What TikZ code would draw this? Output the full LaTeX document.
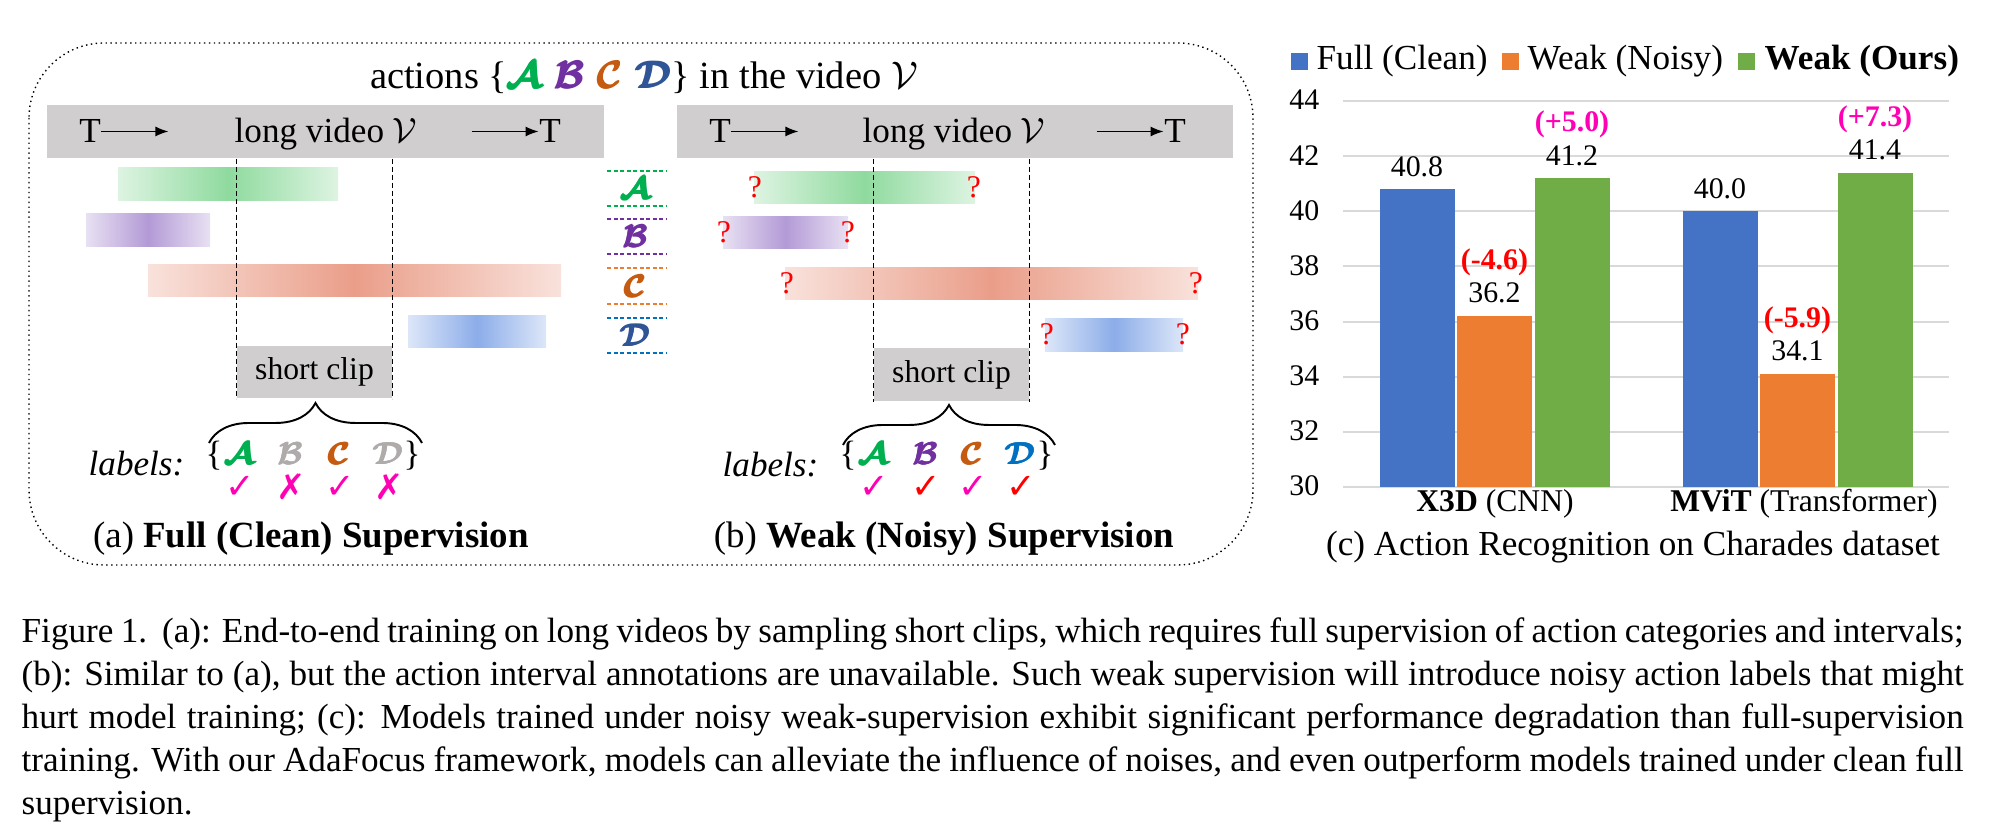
\documentclass[tikz,border=0pt]{standalone}
\usepackage{amsmath,amssymb}
\usepackage{fontspec}
\setmainfont{Liberation Serif}
\newfontfamily\dejavu{DejaVu Sans}
\usetikzlibrary{positioning,arrows.meta,decorations.pathreplacing}
\definecolor{ActA}{HTML}{00B050}
\definecolor{ActB}{HTML}{7030A0}
\definecolor{ActC}{HTML}{C55A11}
\definecolor{ActD}{HTML}{2F5597}
\definecolor{ActDl}{HTML}{0070C0}
\definecolor{DashC}{HTML}{ED7D31}
\definecolor{LabGray}{HTML}{AFABAB}
\definecolor{BandGray}{HTML}{D0CECE}
\definecolor{BarA}{HTML}{8FDA9E}
\definecolor{BarB}{HTML}{B39AD6}
\definecolor{BarC}{HTML}{EA9E89}
\definecolor{BarD}{HTML}{8CADE9}
\definecolor{ChBlue}{HTML}{4472C4}
\definecolor{ChOrange}{HTML}{ED7D31}
\definecolor{ChGreen}{HTML}{70AD47}
\definecolor{GridGray}{HTML}{D9D9D9}
\definecolor{NoteRed}{HTML}{FF0000}
\definecolor{NotePink}{HTML}{FF00B4}
\newcommand{\bcal}[2]{\textcolor{#1}{$\pmb{\boldsymbol{\mathcal{#2}}}$}}
\newcommand{\okm}{{\dejavu ✓}}
\newcommand{\nom}{{\dejavu ✗}}

\begin{document}
\begin{tikzpicture}[x=0.1mm,y=-0.1mm,
  every node/.style={inner sep=0pt},
  t9/.style={font=\fontsize{9}{11}\selectfont},
  t10/.style={font=\fontsize{10}{12}\selectfont},
  t105/.style={font=\fontsize{10.5}{12}\selectfont},
  t8/.style={font=\fontsize{8.5}{10}\selectfont},
  band/.style={fill=BandGray,minimum height=5.3mm},
  clipbox/.style={fill=BandGray,font=\fontsize{9}{11}\selectfont},
  clipline/.style={black,line width=0.45pt,dash pattern=on 0.5mm off 0.3mm},
  tarrow/.style={-{Latex[length=1.3mm,width=1mm]},line width=0.4pt},
  keydash/.style={line width=0.5pt,dash pattern=on 0.4mm off 0.25mm},
  letter/.style={font=\fontsize{9}{11}\selectfont},
  okmark/.style={font=\fontsize{10}{12}\selectfont},
  qmark/.style={NoteRed,font=\fontsize{9}{11}\selectfont},
  setbrace/.style={decorate,decoration={brace,amplitude=4mm},line width=0.55pt},
  gridline/.style={GridGray,line width=0.6pt},
  legsq/.style={minimum size=1.7mm},
  note/.style={font=\fontsize{8.5}{10}\selectfont\bfseries},
  capstyle/.style={font=\fontsize{10}{12.2}\selectfont,text width=194.2mm,align=justify}]
\useasboundingbox (0,0) rectangle (2000,829);

% dotted frame round (a) and (b)
\draw[densely dotted,line width=0.4pt,rounded corners=7.5mm] (29,43) rectangle (1253,565);
\node[font=\fontsize{10.95}{13}\selectfont,anchor=base] (title) at (644,89)
  {actions \{\bcal{ActA}{A}\,\,\bcal{ActB}{B}\,\,\bcal{ActC}{C}\,\,\bcal{ActD}{D}\} in the video $\mathcal{V}$};

% long video bands
\node[band,minimum width=55.7mm] (bandL) at (325.5,131.5) {};
\node[band,minimum width=55.6mm] (bandR) at (955,131.5) {};
\node[t10,anchor=base] (tL1) at (90,143) {T};
\draw[tarrow] (tL1.east) -- ++(67,0);
\node[t10,anchor=base] (vidL) at (326,143) {long video $\mathcal{V}$};
\node[t10,anchor=base] (tL2) at (550,143) {T};
\draw[tarrow] ([xshift=-6.7mm]tL2.west) -- (tL2.west);
\node[t10,anchor=base] (tR1) at (720,143) {T};
\draw[tarrow] (tR1.east) -- ++(67,0);
\node[t10,anchor=base] (vidR) at (954,143) {long video $\mathcal{V}$};
\node[t10,anchor=base] (tR2) at (1175,143) {T};
\draw[tarrow] ([xshift=-6.7mm]tR2.west) -- (tR2.west);

% action intervals
\foreach \xa/\ya/\xb/\yb/\col in {118/168/338/201/BarA, 86/214/210/247/BarB,
    148/265/561/297/BarC, 408/316/546/348/BarD, 754/172/975/204/BarA,
    723/217/848/249/BarB, 785/268/1198/300/BarC, 1045/319/1183/352/BarD}
  \shade[left color=\col!30,right color=\col!30,middle color=\col] (\xa,\ya) rectangle (\xb,\yb);
\foreach \xa/\xb/\ym [count=\i] in {755/974/187, 724/848/232, 787/1196/283, 1047/1183/334} {
  \node[qmark] (qa\i) at (\xa,\ym) {?};
  \node[qmark] (qb\i) at (\xb,\ym) {?};
}

% key between the panels
\foreach \l/\c/\dc/\ya/\yb in {A/ActA/ActA/171/206, B/ActB/ActB/219/254,
    C/ActC/DashC/268/304, D/ActD/ActDl/318/353} {
  \draw[keydash,\dc] (607,\ya) -- (666,\ya);
  \draw[keydash,\dc] (607,\yb) -- (666,\yb);
  \node[letter] (key\l) at (636,{(\ya+\yb)/2}) {\bcal{\c}{\l}};
}

% short clips
\node[clipbox,minimum width=15.5mm,minimum height=5.2mm] (clipL) at (314.5,372) {short clip};
\node[clipbox,minimum width=15.5mm,minimum height=5.3mm] (clipR) at (951.5,374.5) {short clip};
\draw[clipline] (bandL.south -| clipL.west) -- (clipL.south west);
\draw[clipline] (bandL.south -| clipL.east) -- (clipL.south east);
\draw[clipline] (bandR.south -| clipR.west) -- (clipR.south west);
\draw[clipline] (bandR.south -| clipR.east) -- (clipR.south east);

% labels of the clips
\draw[setbrace] (209,443) -- (422,443);
\draw[setbrace] (843,445) -- (1055,445);
\node[t10,anchor=base west] (labL) at (88,476) {\textit{labels:}};
\node[t10,anchor=base west] (labR) at (722,477) {\textit{labels:}};
\node[t10,anchor=base] (obL) at (214,466) {\{};
\node[t10,anchor=base] (cbL) at (412,466) {\}};
\node[t10,anchor=base] (obR) at (848,466) {\{};
\node[t10,anchor=base] (cbR) at (1045,466) {\}};
\foreach \x/\l/\c/\m/\mc in {240/A/ActA/\okm/NotePink, 291/B/LabGray/\nom/NotePink,
    340/C/ActC/\okm/NotePink, 389/D/LabGray/\nom/NotePink} {
  \node[letter,anchor=base] (setL\l) at (\x,465) {\bcal{\c}{\l}};
  \node[okmark,\mc] (chkL\l) at (\x,487) {\m};
}
\foreach \x/\l/\c/\mc in {874/A/ActA/NotePink, 926/B/ActB/NoteRed,
    973/C/ActC/NotePink, 1021/D/ActDl/NoteRed} {
  \node[letter,anchor=base] (setR\l) at (\x,465) {\bcal{\c}{\l}};
  \node[okmark,\mc] (chkR\l) at (\x,487) {\okm};
}
\node[t105,anchor=base] (capA) at (311,548) {(a) \textbf{Full (Clean) Supervision}};
\node[t105,anchor=base] (capB) at (944,548) {(b) \textbf{Weak (Noisy) Supervision}};

% (c) bar chart
\foreach \v [count=\i] in {30,32,...,44} {
  \pgfmathsetmacro\gy{487-(\v-30)*27.57}
  \draw[gridline] (1343,\gy) -- (1949,\gy);
  \node[t8,anchor=east] (yt\i) at (1320,{\gy-1}) {\v};
}
\foreach \xc/\v/\c [count=\i] in {1417/40.8/ChBlue, 1494.5/36.2/ChOrange, 1572/41.2/ChGreen,
    1720/40.0/ChBlue, 1797.5/34.1/ChOrange, 1875/41.4/ChGreen} {
  \pgfmathsetmacro\by{487-(\v-30)*27.57}
  \fill[\c] ({\xc-37.5},487) rectangle ({\xc+37.5},\by);
  \node[t8,anchor=south] (val\i) at (\xc,{\by-12}) {\v};
}
\node[note,NoteRed,above=0.6mm of val2] (gap1) {(-4.6)};
\node[note,NotePink,above=0.6mm of val3] (gap2) {(+5.0)};
\node[note,NoteRed,above=0.6mm of val5] (gap3) {(-5.9)};
\node[note,NotePink,above=0.6mm of val6] (gap4) {(+7.3)};
\node[t9,anchor=base] (catA) at (1495,512) {\textbf{X3D} (CNN)};
\node[t9,anchor=base] (catB) at (1804,512) {\textbf{MViT} (Transformer)};
\node[t10,anchor=base] (capC) at (1633,556) {(c) Action Recognition on Charades dataset};
\node[legsq,fill=ChBlue] (lgA) at (1299,61.5) {};
\node[t10,anchor=base west] (lgAt) at (1316,70) {Full (Clean)};
\node[legsq,fill=ChOrange] (lgB) at (1510.5,61.5) {};
\node[t10,anchor=base west] (lgBt) at (1527,70) {Weak (Noisy)};
\node[legsq,fill=ChGreen] (lgC) at (1746.5,61.5) {};
\node[t10,anchor=base west] (lgCt) at (1764,70) {\textbf{Weak (Ours)}};

% figure caption
\node[capstyle,anchor=base west] (figcap) at (21,643) {\hyphenpenalty=10000
  Figure 1.~~(a): End-to-end training on long videos by sampling short clips, which requires full supervision of action categories and intervals;\linebreak
  (b): Similar to (a), but the action interval annotations are unavailable. Such weak supervision will introduce noisy action labels that might\linebreak
  hurt model training; (c): Models trained under noisy weak-supervision exhibit significant performance degradation than full-supervision\linebreak
  training. With our AdaFocus framework, models can alleviate the influence of noises, and even outperform models trained under clean full\linebreak
  supervision.};
\end{tikzpicture}
\end{document}
